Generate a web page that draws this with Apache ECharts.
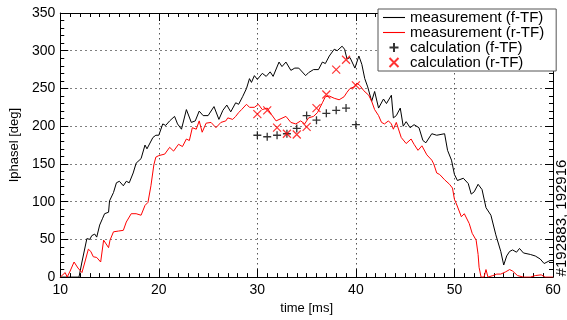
<!DOCTYPE html>
<html>
<head>
<meta charset="utf-8">
<script src="https://cdn.jsdelivr.net/npm/echarts@6/dist/echarts.min.js"></script>
<style>
  html, body { margin: 0; padding: 0; background: #fff; }
  #chart { width: 567px; height: 320px; }
</style>
</head>
<body>
<div id="chart"></div>
<script>
// measurement (f-TF), black
const blackT = [10, 11.9, 12.2, 12.7, 13.0, 13.2, 13.5, 13.7, 14.0, 14.3, 14.5, 14.9, 15.0, 15.4, 15.7, 16.0, 16.4, 16.7, 17.0, 17.4,
  17.7, 18.2, 18.6, 18.8, 19.0, 19.4, 19.7, 20.0, 20.4, 20.7, 21.1, 21.6, 21.9, 22.3, 22.8, 23.3, 23.7, 24.1, 24.5, 25.0,
  25.6, 26.1, 26.5, 26.9, 27.3, 27.8, 28.1, 28.5, 28.9, 29.2, 29.4, 29.7, 30.0, 30.5, 30.9, 31.3, 31.6, 32.2, 32.5, 32.9,
  33.4, 33.8, 34.2, 34.9, 35.2, 35.7, 36.2, 36.6, 36.9, 37.3, 37.8, 38.1, 38.6, 38.85, 39.1, 39.4, 39.9, 40.3, 40.6, 40.9,
  41.2, 41.6, 41.9, 42.3, 42.8, 43.1, 43.6, 43.8, 44.1, 44.5, 44.8, 45.1, 45.5, 45.9, 46.4, 46.8, 47.1, 47.7, 48.2, 49.0,
  49.3, 49.7, 50.0, 50.3, 50.9, 51.4, 51.7, 52.0, 52.4, 52.8, 53.2, 53.7, 54.2, 54.7, 55.0, 55.3, 55.6, 55.9, 56.3, 56.6,
  57.0, 57.7, 58.2, 58.7, 59.1, 59.7, 60];
const blackV = [0, 0, 20, 51, 50, 55, 57, 53, 69, 78, 84, 86, 101, 112, 125, 127, 121, 127, 125, 138,
  151, 157, 175, 170, 172, 185, 188, 188, 203, 201, 207, 213, 203, 196, 222, 205, 207, 220, 214, 214,
  226, 209, 221, 228, 219, 231, 229, 239, 250, 263, 258, 267, 262, 270, 266, 272, 266, 285, 279, 285,
  274, 277, 277, 267, 271, 275, 275, 285, 283, 293, 302, 300, 306, 302, 289, 291, 277, 293, 282, 263,
  252, 233, 246, 224, 236, 230, 241, 211, 214, 224, 200, 206, 198, 202, 198, 181, 178, 190, 188, 190,
  168, 155, 136, 128, 131, 124, 110, 113, 123, 116, 92, 82, 56, 34, 16, 28, 34, 36, 33, 38,
  32, 30, 28, 24, 18, 22, 22];

// measurement (r-TF), red
const redT = [10, 10.5, 10.7, 11.0, 11.4, 11.8, 12.2, 12.5, 12.85, 13.1, 13.35, 13.7, 14.1, 14.4, 14.6, 14.9, 15.05, 15.4, 15.9, 16.4,
  16.7, 17.2, 17.7, 18.2, 18.6, 18.9, 19.2, 19.5, 19.7, 20.0, 20.6, 21.1, 21.5, 22.0, 22.4, 22.8, 23.1, 23.4, 23.8, 24.1,
  24.4, 24.8, 25.3, 25.8, 26.3, 26.8, 27.0, 27.5, 27.8, 28.1, 28.4, 28.9, 29.2, 29.7, 30.1, 30.5, 31.0, 31.4, 31.9, 32.4,
  32.9, 33.4, 33.9, 34.4, 34.8, 35.2, 35.7, 36.1, 36.6, 36.9, 37.3, 37.8, 38.3, 38.8, 39.1, 39.4, 39.8, 40.1, 40.4, 40.8,
  41.3, 41.6, 41.9, 42.3, 42.6, 42.9, 43.3, 43.6, 43.8, 44.1, 44.6, 45.1, 45.6, 45.9, 46.3, 46.7, 47.2, 47.7, 47.9, 48.2,
  48.5, 49.0, 49.5, 49.8, 50.0, 50.2, 50.7, 51.0, 51.5, 51.8, 52.2, 52.4, 52.5, 52.7, 53.0, 53.2, 53.4, 53.9, 54.3, 54.7,
  55.2, 55.6, 55.9, 56.4, 57.0, 57.7, 58.2, 58.8, 59.2, 60];
const redV = [0, 6, 0, 8, 20, 12, 6, 20, 37, 34, 27, 26, 20, 49, 48, 39, 49, 60, 61, 62,
  73, 84, 84, 82, 95, 99, 121, 149, 159, 161, 163, 172, 167, 176, 173, 183, 181, 198, 196, 207,
  192, 204, 205, 198, 205, 207, 211, 209, 213, 218, 222, 229, 225, 225, 229, 222, 224, 216, 207, 210,
  213, 205, 203, 207, 203, 211, 213, 218, 231, 239, 240, 237, 235, 239, 245, 250, 252, 257, 254, 247,
  241, 233, 222, 214, 205, 203, 207, 203, 196, 205, 185, 177, 183, 176, 168, 174, 162, 155, 150, 138,
  136, 129, 123, 118, 103, 97, 80, 84, 71, 58, 49, 30, 13, 0, 0, 10, 0, 2, 4, 4,
  7, 10, 8, 2, 0, 0, 2, 3, 0, 0];

// calculations at 30..40 ms
const calcT = [30, 31, 32, 33, 34, 35, 36, 37, 38, 39, 40];
const calcF = [188, 186, 188, 190, 197, 214, 208, 217, 221, 224, 202];
const calcR = [216, 221, 198, 190, 189, 199, 224, 242, 275, 288, 254];

const xTicks = { min: 10, max: 60, interval: 10 };
const yTicks = { min: 0, max: 350, interval: 50 };

const zip = (a, b) => a.map((v, i) => [v, b[i]]);
const font = 'Liberation Sans, Arial, Helvetica, sans-serif';
const lineIcon = 'path://M0,0H22V1.1H0Z';

const chart = echarts.init(document.getElementById('chart'), null, { renderer: 'canvas' });

function axisBase(extra) {
  return Object.assign({
    type: 'value',
    axisLine: { show: true, onZero: false, lineStyle: { color: '#000', width: 1 } },
    axisTick: { show: true, inside: true, length: 8, lineStyle: { color: '#000' } },
    minorTick: { show: true, length: 4, lineStyle: { color: '#000' } },
    splitLine: { show: false },
    axisLabel: { show: false }
  }, extra);
}

const option = {
  animation: false,
  textStyle: { fontFamily: font },
  grid: { left: 56, right: 14, top: 13, bottom: 37 },
  xAxis: [
    axisBase(Object.assign({}, xTicks, {
      position: 'bottom',
      name: 'time [ms]',
      nameLocation: 'middle',
      nameGap: 21,
      nameTextStyle: { fontSize: 13, color: '#000', fontFamily: font },
      minorTick: { show: true, splitNumber: 10, length: 4, lineStyle: { color: '#000' } },
      splitLine: { show: true, lineStyle: { color: '#555', type: [1.5, 3.5], width: 1 } },
      axisLabel: { show: true, fontSize: 14, color: '#000', margin: 6, fontFamily: font }
    })),
    axisBase(Object.assign({}, xTicks, {
      position: 'top',
      minorTick: { show: true, splitNumber: 10, length: 4, lineStyle: { color: '#000' } }
    }))
  ],
  yAxis: [
    axisBase(Object.assign({}, yTicks, {
      position: 'left',
      name: 'Iphasel [deg]',
      nameLocation: 'middle',
      nameGap: 33,
      nameTextStyle: { fontSize: 13, color: '#000', fontFamily: font },
      minorTick: { show: true, splitNumber: 5, length: 4, lineStyle: { color: '#000' } },
      splitLine: { show: true, lineStyle: { color: '#555', type: [1.5, 3.5], width: 1 } },
      axisLabel: { show: true, fontSize: 14, color: '#000', margin: 5, fontFamily: font }
    })),
    axisBase(Object.assign({}, yTicks, {
      position: 'right',
      minorTick: { show: true, splitNumber: 5, length: 4, lineStyle: { color: '#000' } }
    }))
  ],
  legend: {
    orient: 'vertical',
    left: 378,
    top: 9,
    padding: [1, 12, 1, 5],
    itemGap: 0,
    itemWidth: 22,
    itemHeight: 9,
    backgroundColor: '#fff',
    borderColor: '#555',
    borderWidth: 1,
    borderRadius: 0,
    textStyle: { fontSize: 15, lineHeight: 15, color: '#000', fontFamily: font },
    data: [
      { name: 'measurement (f-TF)', icon: lineIcon },
      { name: 'measurement (r-TF)', icon: lineIcon },
      'calculation (f-TF)',
      'calculation (r-TF)'
    ],
    z: 10
  },
  graphic: [{
    type: 'text',
    x: 562,
    y: 218,
    rotation: Math.PI / 2,
    style: {
      text: '#192883, 192916',
      fontSize: 15,
      fontFamily: font,
      fill: '#000',
      align: 'center',
      verticalAlign: 'middle'
    }
  }],
  series: [
    {
      name: 'measurement (f-TF)',
      type: 'line',
      data: zip(blackT, blackV),
      symbol: 'none',
      lineStyle: { color: '#000', width: 1 },
      itemStyle: { color: '#000' },
      z: 2
    },
    {
      name: 'measurement (r-TF)',
      type: 'line',
      data: zip(redT, redV),
      symbol: 'none',
      lineStyle: { color: '#ff0000', width: 1 },
      itemStyle: { color: '#ff0000' },
      z: 2
    },
    {
      name: 'calculation (f-TF)',
      type: 'scatter',
      data: zip(calcT, calcF),
      symbol: 'path://M5,0L5,10M0,5L10,5',
      symbolSize: 8,
      itemStyle: { color: 'none', borderColor: '#000', borderWidth: 1.3 },
      z: 3
    },
    {
      name: 'calculation (r-TF)',
      type: 'scatter',
      data: zip(calcT, calcR),
      symbol: 'path://M0,0L10,10M0,10L10,0',
      symbolSize: 8,
      itemStyle: { color: 'none', borderColor: '#ff0000', borderWidth: 1.2 },
      z: 3
    }
  ]
};

chart.setOption(option);
</script>
</body>
</html>
